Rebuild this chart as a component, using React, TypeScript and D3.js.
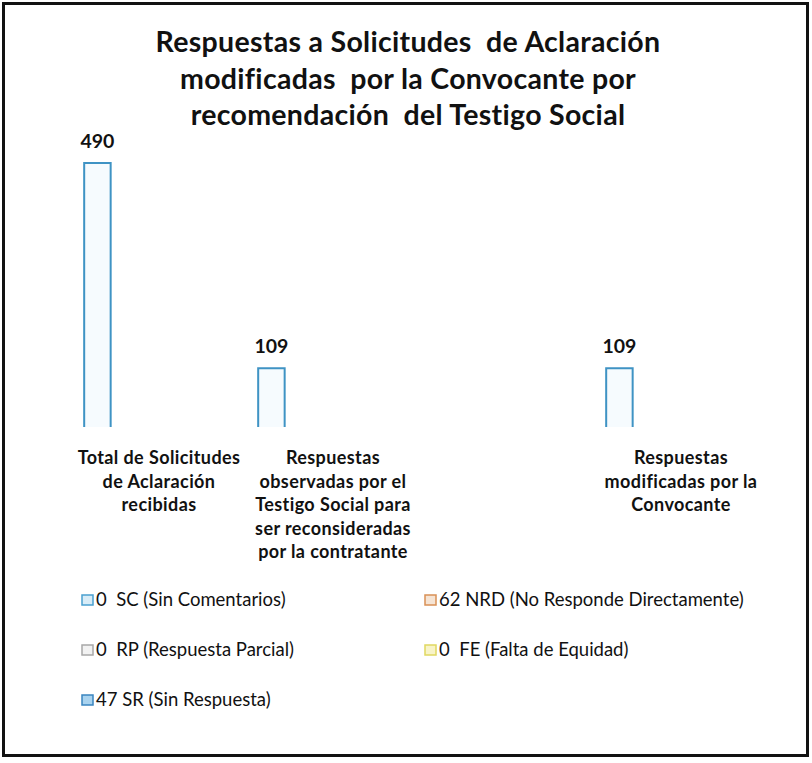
import React from "react";
import * as d3 from "d3";

const titleLines = [
  "Respuestas a Solicitudes  de Aclaración",
  "modificadas  por la Convocante por",
  "recomendación  del Testigo Social",
];

const categories = ["c1", "c2", "c3", "c4"];
const categoryLabels = [
  ["Total de Solicitudes", "de Aclaración", "recibidas"],
  ["Respuestas", "observadas por el", "Testigo Social para", "ser reconsideradas", "por la contratante"],
  [],
  ["Respuestas", "modificadas por la", "Convocante"],
];
const series = ["SC", "NRD", "RP", "FE", "SR"];
const values = [490, 109, null, 109];

const legendLabels = [
  "0  SC (Sin Comentarios)",
  "62 NRD (No Responde Directamente)",
  "0  RP (Respuesta Parcial)",
  "0  FE (Falta de Equidad)",
  "47 SR (Sin Respuesta)",
];
const legendStroke = ["#4aa0d0", "#d99056", "#a8a8a8", "#e0d860", "#3a85c0"];
const legendFill = ["#d8ecf7", "#f6e4d4", "#f2f2f2", "#f8f4c8", "#a9d3ef"];

const FONT = "Lato, 'Open Sans', sans-serif";

export default function App() {
  const W = 812, H = 763;
  const x0 = d3.scaleBand().domain(categories).range([72, 768]).paddingInner(0.14).paddingOuter(0.07);
  const x1 = d3.scaleBand().domain(series).range([0, x0.bandwidth()]).paddingInner(0.14).paddingOuter(0);
  const y = d3.scaleLinear().domain([0, 490]).range([427, 163]);

  return (
    <svg width={W} height={H} style={{ position: "absolute", left: 0, top: 0 }}>
      <rect x={0} y={0} width={W} height={H} fill="#fff" />
      <rect x={3.5} y={3.5} width={804} height={752} fill="none" stroke="#111" strokeWidth={3} />
      {titleLines.map((t, i) => (
        <text key={i} x={408} y={52 + i * 36.5} textAnchor="middle" fontFamily={FONT} fontWeight="bold" fontSize={28.5} letterSpacing={0.3} fill="#111" style={{ whiteSpace: "pre" }}>
          {t}
        </text>
      ))}
      {categories.map((c, i) => {
        const v = values[i];
        const bx = (x0(c) as number) + (x1("SC") as number);
        const bw = x1.bandwidth();
        const cx = (x0(c) as number) + x0.bandwidth() / 2;
        return (
          <g key={c}>
            {v != null && (
              <>
                <path
                  d={`M${bx},${y(0)}V${y(v)}H${bx + bw}V${y(0)}`}
                  fill="#f6fbfe"
                  stroke="#3f93c4"
                  strokeWidth={2}
                />
                <text x={bx + bw / 2} y={y(v) - 15} textAnchor="middle" fontFamily={FONT} fontWeight="bold" fontSize={19.5} fill="#111">
                  {v}
                </text>
              </>
            )}
            {categoryLabels[i].map((l, j) => (
              <text key={j} x={cx} y={464 + j * 23.5} textAnchor="middle" fontFamily={FONT} fontWeight="bold" fontSize={18} letterSpacing={0.4} fill="#111">
                {l}
              </text>
            ))}
          </g>
        );
      })}
      {legendLabels.map((l, i) => {
        const col = i % 2, row = Math.floor(i / 2);
        const lx = col === 0 ? 82 : 425;
        const ly = 600 + row * 50;
        return (
          <g key={i}>
            <rect x={lx} y={ly - 5} width={11} height={10} fill={legendFill[i]} stroke={legendStroke[i]} strokeWidth={1.5} />
            <text x={lx + 14} y={ly + 6} fontFamily={FONT} fontSize={18.5} fill="#111" style={{ whiteSpace: "pre" }}>
              {l}
            </text>
          </g>
        );
      })}
    </svg>
  );
}
